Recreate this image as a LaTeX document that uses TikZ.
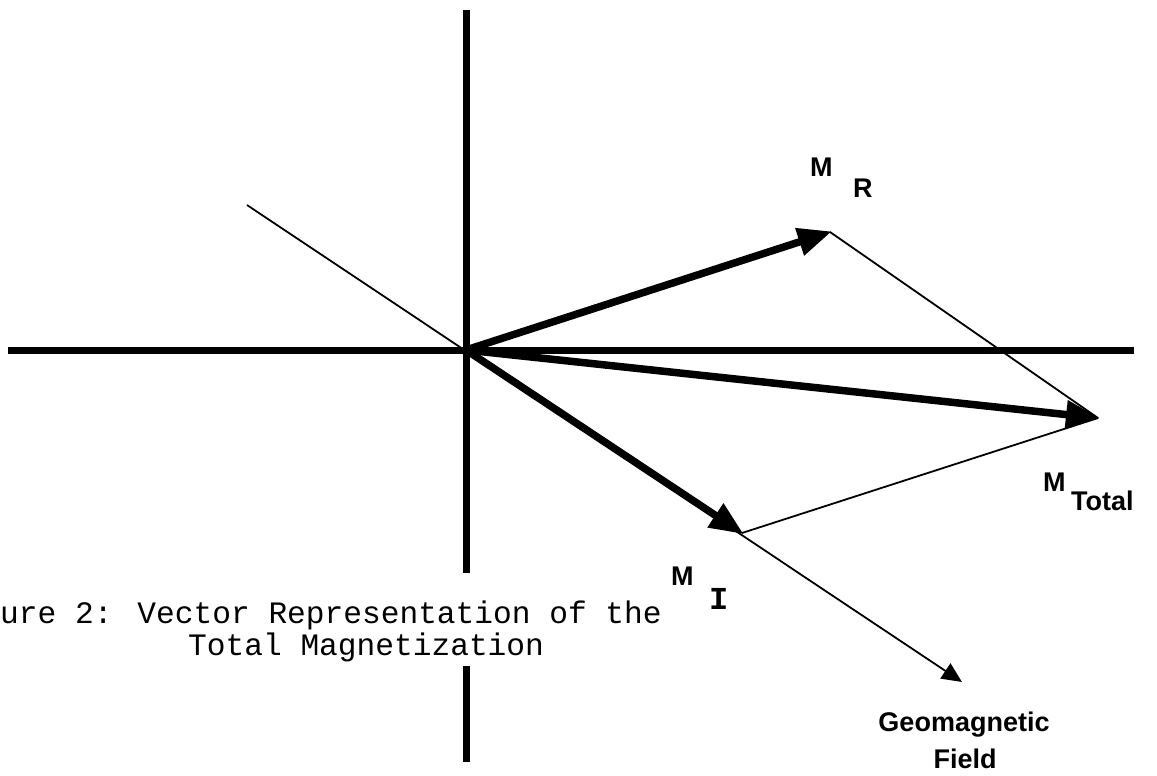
\documentclass[tikz,border=0pt]{standalone}
\usepackage{fontspec}
\usetikzlibrary{arrows.meta}
\newfontfamily\lblfont{Liberation Sans}
\newfontfamily\capfont{Liberation Mono}
\tikzset{
  axis/.style={line width=7pt},
  vec/.style={line width=7.5pt, -{Triangle[length=34pt,width=27pt]}, shorten >=-2pt},
  thin/.style={line width=1.8pt},
  lbl/.style={font=\lblfont\bfseries\fontsize{27}{30}\selectfont, inner sep=0pt},
  caption/.style={font=\capfont\fontsize{31.2}{33}\selectfont, inner sep=0pt, anchor=base west}
}
\begin{document}
\begin{tikzpicture}[x=1pt,y=-1pt]
\useasboundingbox (0,0) rectangle (1157,776);
% key points
\coordinate (O) at (466,350);
\coordinate (ytop) at (466,10);
\coordinate (ygap1) at (466,573);
\coordinate (ygap2) at (466,666);
\coordinate (ybot) at (466,762);
\coordinate (xl) at (8,350);
\coordinate (xr) at (1134,350);
\coordinate (fstart) at (247,205);
\coordinate (fend) at (962,682);
\coordinate (R) at (830,232);
\coordinate (T) at (1098,418);
\coordinate (I) at (742,533);
% axes
\draw[axis] (ytop) -- (ygap1);
\draw[axis] (ygap2) -- (ybot);
\draw[axis] (xl) -- (xr);
% field line
\draw[thin, -{Triangle[length=20pt,width=18pt]}] (fstart) -- (fend);
% parallelogram sides
\draw[thin] (R) -- (T);
\draw[thin] (I) -- (T);
% vectors
\draw[vec] (O) -- (R);
\draw[vec] (O) -- (T);
\draw[vec] (O) -- (I);
% labels
\node[lbl, anchor=north west] (mr) at (810,158) {M};
\node[lbl, anchor=north west] (mrs) at (853,179) {R};
\node[lbl, anchor=north west] (mt) at (1043,473) {M};
\node[lbl, anchor=north west] (mts) at (1071,491) {Total};
\node[lbl, anchor=north west] (mi) at (671,567) {M};
\node[font=\capfont\bfseries\fontsize{32}{33}\selectfont, inner sep=0pt, anchor=north west] (mis) at (709,588) {I};
\node[lbl, anchor=north] (geo) at (964,712) {Geomagnetic};
\node[lbl, anchor=north] (fld) at (965,749) {Field};
% caption
\node[caption] (cap1) at (0,623) {ure 2: Vector Representation of the};
\node[caption] (cap2) at (188,655) {Total Magnetization};
\end{tikzpicture}
\end{document}
